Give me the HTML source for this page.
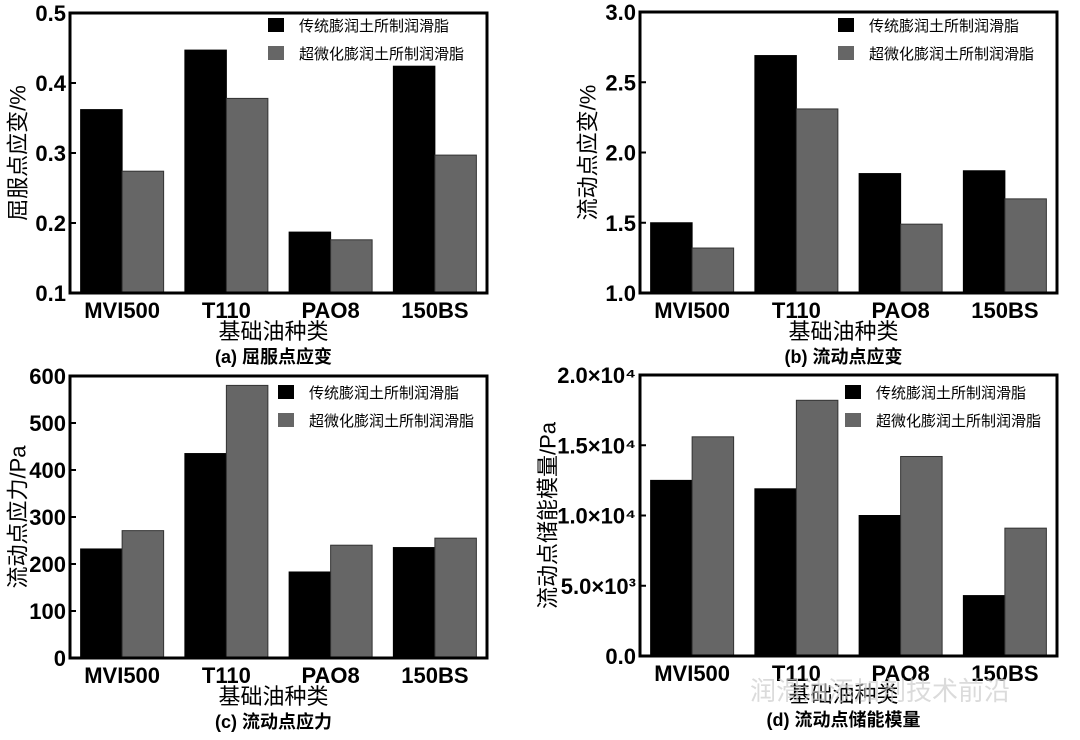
<!DOCTYPE html>
<html><head><meta charset="utf-8">
<style>
body{margin:0;background:#fff;}
svg{display:block;font-family:"Liberation Sans","Noto Sans CJK SC",sans-serif;}
</style></head>
<body>
<svg id="chart" width="1080" height="740" viewBox="0 0 1080 740"></svg>
<script>
const categories = ["MVI500","T110","PAO8","150BS"];
const seriesNames = ["传统膨润土所制润滑脂","超微化膨润土所制润滑脂"];
const aBlack = [0.362,0.447,0.187,0.424];
const aGray = [0.274,0.378,0.176,0.297];
const bBlack = [1.50,2.69,1.85,1.87];
const bGray = [1.32,2.31,1.49,1.67];
const cBlack = [232,435,183,235];
const cGray = [271,580,240,255];
const dBlack = [12500,11900,10000,4300];
const dGray = [15600,18200,14200,9100];
const aTicks = [0.1,0.2,0.3,0.4,0.5];
const bTicks = [1.0,1.5,2.0,2.5,3.0];
const cTicks = [0,100,200,300,400,500,600];
const dTicks = [0,5000,10000,15000,20000];
const dTickLabels = ["0.0","5.0×10³","1.0×10⁴","1.5×10⁴","2.0×10⁴"];

const NS="http://www.w3.org/2000/svg";
const svg=document.getElementById('chart');
function mk(tag,attrs,parent){const e=document.createElementNS(NS,tag);for(const k in attrs)e.setAttribute(k,attrs[k]);(parent||svg).appendChild(e);return e;}

const panels=[
 {id:'a',L:70,T:13,R:487,B:293,min:0.1,max:0.5,ticks:aTicks,labels:aTicks.map(v=>v.toFixed(1)),black:aBlack,gray:aGray,ytitle:'屈服点应变/%',ytx:18,caption:'(a)  屈服点应变',legY:25,legX:268},
 {id:'b',L:640,T:12,R:1057,B:293,min:1.0,max:3.0,ticks:bTicks,labels:bTicks.map(v=>v.toFixed(1)),black:bBlack,gray:bGray,ytitle:'流动点应变/%',ytx:588,caption:'(b) 流动点应变',legY:25,legX:838},
 {id:'c',L:70,T:376,R:487,B:658,min:0,max:600,ticks:cTicks,labels:cTicks.map(String),black:cBlack,gray:cGray,ytitle:'流动点应力/Pa',ytx:18,caption:'(c) 流动点应力',legY:392,legX:278},
 {id:'d',L:640,T:375,R:1057,B:656,min:0,max:20000,ticks:dTicks,labels:dTickLabels,black:dBlack,gray:dGray,ytitle:'流动点储能模量/Pa',ytx:548,caption:'(d) 流动点储能模量',legY:392,legX:845}
];

panels.forEach(p=>{
 const g=mk('g',{});
 
 
 const y=v=>p.B-(v-p.min)/(p.max-p.min)*(p.B-p.T);
 const band=(p.R-p.L)/4;
 const bw=41.5;
 categories.forEach((c,i)=>{
  const x0=p.L+i*band+(band-2*bw)/2;
  const r1=mk('rect',{x:x0,y:y(p.black[i]),width:bw,height:p.B-y(p.black[i]),fill:'#000',stroke:'#000','stroke-width':1},g);
  
  
  const r2=mk('rect',{x:x0+bw,y:y(p.gray[i]),width:bw,height:p.B-y(p.gray[i]),fill:'#666',stroke:'#333','stroke-width':1},g);
  
  
  const t=mk('text',{x:p.L+i*band+band/2,y:p.B+25,'text-anchor':'middle','font-size':22,'font-weight':'bold'},g);
  t.textContent=c;
  
  
 });
 const fr=mk('rect',{x:p.L,y:p.T,width:p.R-p.L,height:p.B-p.T,fill:'none',stroke:'#000','stroke-width':3},g);
 
 
 p.ticks.forEach((v,k)=>{
  mk('line',{x1:p.L,x2:p.L+6,y1:y(v),y2:y(v),stroke:'#000','stroke-width':2},g);
  const t=mk('text',{x:p.L-4,y:y(v)+8,'text-anchor':'end','font-size':22,'font-weight':'bold'},g);
  t.textContent=p.labels[k];
  
  
 });
 const cy=(p.T+p.B)/2;
 const yt=mk('text',{x:p.ytx,y:cy,'text-anchor':'middle','font-size':22,transform:`rotate(-90 ${p.ytx} ${cy})`,'dominant-baseline':'central'},g);
 yt.textContent=p.ytitle;
 
 
 const xm=(p.L+p.R)/2;
 const xt=mk('text',{x:xm-5,y:p.B+46,'text-anchor':'middle','font-size':22},g);
 xt.textContent='基础油种类';
 
 
 const cp=mk('text',{x:xm-5,y:p.B+70,'text-anchor':'middle','font-size':18,'font-weight':'bold'},g);
 cp.textContent=p.caption;
 
 
 ['#000','#666'].forEach((col,k)=>{
  const sy=p.legY+k*28;
  const sw=mk('rect',{x:p.legX,y:sy-7,width:16,height:14,fill:col},g);
  
  
  const lt=mk('text',{x:p.legX+31,y:sy+6,'font-size':15},g);
  lt.textContent=seriesNames[k];
  
  
 });
});
const wm=mk('text',{x:750,y:700,'font-size':26,fill:'#ccc','fill-opacity':0.7});
wm.textContent='润滑油添加剂技术前沿';


</script>
</body></html>
